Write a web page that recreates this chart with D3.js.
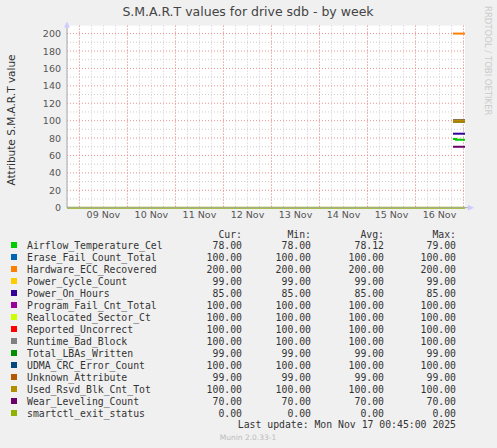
<!DOCTYPE html>
<html><head><meta charset="utf-8">
<script src="https://cdn.jsdelivr.net/npm/d3@7"></script>
<style>body{margin:0;background:#f0f0f0}svg{display:block}</style>
</head><body><div id="chart"></div>
<script>
// series names, colours and summary values (Cur, Min, Avg, Max)
const names = ["Airflow_Temperature_Cel","Erase_Fail_Count_Total","Hardware_ECC_Recovered","Power_Cycle_Count","Power_On_Hours","Program_Fail_Cnt_Total","Reallocated_Sector_Ct","Reported_Uncorrect","Runtime_Bad_Block","Total_LBAs_Written","UDMA_CRC_Error_Count","Unknown_Attribute","Used_Rsvd_Blk_Cnt_Tot","Wear_Leveling_Count","smartctl_exit_status"];
const colors = ["#00cc00","#0066b3","#ff8000","#ffcc00","#330099","#990099","#ccff00","#ff0000","#808080","#008f00","#00487d","#b35a00","#b38f00","#6b006b","#8fb300"];
const cur = [78,100,200,99,85,100,100,100,100,99,100,99,100,70,0];
const mins = [78,100,200,99,85,100,100,100,100,99,100,99,100,70,0];
const avgs = [78.12,100,200,99,85,100,100,100,100,99,100,99,100,70,0];
const maxs = [79,100,200,99,85,100,100,100,100,99,100,99,100,70,0];
// samples: only the last hours of the week have data
const times = ["2025-11-16T18:45","2025-11-16T20:15","2025-11-16T21:45","2025-11-16T23:15","2025-11-17T00:45"];
const airflow = [79,78,78,78,78];
const dayTicks = ["09 Nov","10 Nov","11 Nov","12 Nov","13 Nov","14 Nov","15 Nov","16 Nov"];
const yTicks = [0,20,40,60,80,100,120,140,160,180,200];

const W = 497, H = 448;
const svg = d3.select("#chart").append("svg").attr("width", W).attr("height", H)
    .attr("font-family", "DejaVu Sans, sans-serif");
svg.append("rect").attr("width", W).attr("height", H).attr("fill", "#f0f0f0");

const x0 = 67, x1 = 465, yTop = 33.6, yBot = 207.7;
const end = new Date("2025-11-17T00:45"), start = new Date(end - 8.29 * 864e5);
const x = d3.scaleTime().domain([start, end]).range([x0, x1]);
const y = d3.scaleLinear().domain([0, 200]).range([yBot, yTop]);

svg.append("rect").attr("x", x0).attr("y", yTop - 8).attr("width", x1 - x0).attr("height", yBot - yTop + 8).attr("fill", "#fff");

// minor grid
const minorX = d3.timeHour.every(6).range(start, end);
svg.append("g").selectAll("line").data(minorX).join("line")
    .attr("x1", d => x(d)).attr("x2", d => x(d)).attr("y1", yTop - 8).attr("y2", yBot)
    .attr("stroke", "#ccc").attr("stroke-dasharray", "1,2");
svg.append("g").selectAll("line").data(d3.range(10, 201, 10)).join("line")
    .attr("x1", x0).attr("x2", x1).attr("y1", d => y(d)).attr("y2", d => y(d))
    .attr("stroke", d => d % 20 === 0 ? "#f09090" : "#ccc").attr("stroke-dasharray", "1,2");
// major day grid
const days = d3.timeDay.range(start, end);
svg.append("g").selectAll("line").data(days).join("line")
    .attr("x1", d => x(d)).attr("x2", d => x(d)).attr("y1", yTop - 8).attr("y2", yBot)
    .attr("stroke", "#f09090").attr("stroke-dasharray", "1,2");

// axes labels
svg.append("g").selectAll("text").data(days.slice(0, dayTicks.length)).join("text")
    .attr("x", d => x(d3.timeHour.offset(d, 12))).attr("y", 218).attr("text-anchor", "middle")
    .attr("font-size", 9.5).attr("fill", "#555").text((d, i) => dayTicks[i]);
svg.append("g").selectAll("text").data(yTicks).join("text")
    .attr("x", 61).attr("y", d => y(d) + 3.5).attr("text-anchor", "end")
    .attr("font-size", 9.5).attr("fill", "#555").text(d => d);

// data lines
const parse = d3.timeParse("%Y-%m-%dT%H:%M");
const line = d3.line().x(d => x(d[0])).y(d => y(d[1])).curve(d3.curveStepAfter);
names.forEach((n, i) => {
    let pts;
    if (i === 0) pts = times.map((t, j) => [parse(t), airflow[j]]);
    else if (i === 14) pts = [[start, 0], [end, 0]];
    else pts = times.map(t => [parse(t), cur[i]]);
    svg.append("path").datum(pts).attr("d", line).attr("fill", "none")
        .attr("stroke", colors[i]).attr("stroke-width", 2);
});

// axis lines + arrows
svg.append("line").attr("x1", x0).attr("x2", x1 + 4).attr("y1", yBot).attr("y2", yBot).attr("stroke", "#aaa");
svg.append("line").attr("x1", x0).attr("x2", x0).attr("y1", yBot).attr("y2", yTop - 8).attr("stroke", "#aaa");
svg.append("path").attr("d", `M${x1 + 3},${yBot - 3}L${x1 + 9},${yBot}L${x1 + 3},${yBot + 3}Z`).attr("fill", "#ccf");
svg.append("path").attr("d", `M${x0 - 3},${yTop - 6}L${x0},${yTop - 12}L${x0 + 3},${yTop - 6}Z`).attr("fill", "#ccf");

// titles
svg.append("text").attr("x", 248).attr("y", 16).attr("text-anchor", "middle").attr("font-size", 12.5)
    .attr("fill", "#444").text("S.M.A.R.T values for drive sdb - by week");
svg.append("text").attr("transform", "translate(15,120) rotate(-90)").attr("text-anchor", "middle")
    .attr("font-size", 10.5).attr("fill", "#333").text("Attribute S.M.A.R.T value");
svg.append("text").attr("transform", "translate(485,6) rotate(90)").attr("font-size", 8.5)
    .attr("fill", "#ccc").text("RRDTOOL / TOBI OETIKER");

// legend
const mono = "DejaVu Sans Mono, monospace";
const colX = [242, 311, 384, 456];
const heads = ["Cur:", "Min:", "Avg:", "Max:"];
const lg = svg.append("g").attr("font-family", mono).attr("font-size", 9.8).attr("fill", "#333");
heads.forEach((h, j) => lg.append("text").attr("x", colX[j]).attr("y", 238).attr("text-anchor", "end").text(h));
const cols = [cur, mins, avgs, maxs];
names.forEach((n, i) => {
    const yy = 249 + i * 12;
    lg.append("rect").attr("x", 11).attr("y", yy - 7).attr("width", 6).attr("height", 6).attr("fill", colors[i]);
    lg.append("text").attr("x", 27).attr("y", yy).text(n);
    cols.forEach((c, j) => lg.append("text").attr("x", colX[j]).attr("y", yy).attr("text-anchor", "end").text(c[i].toFixed(2)));
});
lg.append("text").attr("x", 456).attr("y", 428).attr("text-anchor", "end").text("Last update:  Mon Nov 17 00:45:00 2025");
svg.append("text").attr("x", 248).attr("y", 440).attr("text-anchor", "middle").attr("font-size", 7.5)
    .attr("fill", "#bbb").text("Munin 2.0.33-1");
</script></body></html>
